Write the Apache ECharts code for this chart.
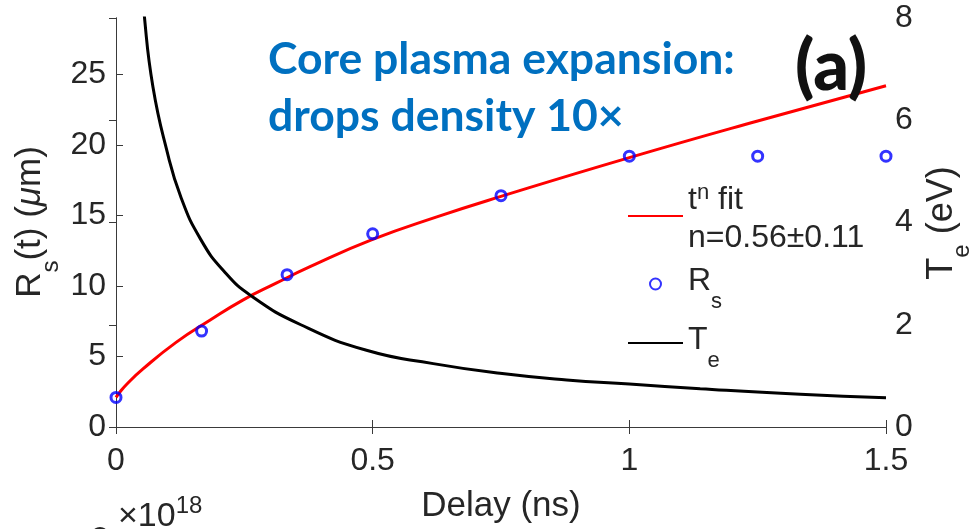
<!DOCTYPE html>
<html>
<head>
<meta charset="utf-8">
<script src="https://cdn.jsdelivr.net/npm/echarts@6/dist/echarts.min.js"></script>
<style>html,body{margin:0;padding:0;background:#fff;}#c{width:979px;height:529px;}</style>
</head>
<body>
<div id="c"></div>
<script>
// Measured R_s points (left axis, µm)
const delayPts = [0, 0.1667, 0.3333, 0.5, 0.75, 1.0, 1.25, 1.5];
const rsPts = [2.1, 6.8, 10.8, 13.7, 16.4, 19.2, 19.2, 19.2];
// t^n fit curve
const fitT = [0, 0.007, 0.02, 0.052, 0.117, 0.182, 0.247, 0.312, 0.377, 0.5, 0.625, 0.75, 1.0, 1.25, 1.5];
const fitR = [2.1, 2.45, 3.0, 4.1, 6.0, 7.55, 9.0, 10.2, 11.35, 13.3, 14.9, 16.35, 19.1, 21.7, 24.2];
// T_e curve (right axis, eV)
const teT = [0.05, 0.0556, 0.072, 0.098, 0.127, 0.165, 0.21, 0.264, 0.36, 0.488, 0.618, 0.748, 0.878, 1.0, 1.138, 1.333, 1.5];
const teV = [8.9, 8.0, 6.65, 5.45, 4.48, 3.67, 3.05, 2.56, 2.0, 1.5, 1.24, 1.05, 0.92, 0.84, 0.75, 0.64, 0.57];
// Tick labels
const xTickLabels = ['0', '0.5', '1', '1.5'];
const leftTicks = [0, 5, 10, 15, 20, 25];
const rightTicks = [0, 2, 4, 6, 8];

const FONT = 'Liberation Sans';
const TXT = '#262626';
const AX = '#3a3a3a';

const fitData = fitT.map((t, i) => [t, fitR[i]]);
const rsData = delayPts.map((t, i) => [t, rsPts[i]]);
const teData = teT.map((t, i) => [t, teV[i]]);

const chart = echarts.init(document.getElementById('c'), null, {renderer: 'canvas'});

const axisCommon = {
  axisLine: {show: true, lineStyle: {color: AX, width: 1}},
  axisTick: {show: true, inside: true, length: 7, lineStyle: {color: AX, width: 1}},
  splitLine: {show: false}
};

const option = {
  backgroundColor: '#ffffff',
  animation: false,
  grid: {left: 116, right: 93, top: 18, bottom: 102, containLabel: false, outerBoundsMode: 'none'},
  xAxis: [
    Object.assign({}, axisCommon, {
      type: 'value', position: 'bottom', min: 0, max: 1.5, interval: 0.5,
      axisLabel: {margin: 18, fontSize: 32, fontFamily: FONT, color: TXT,
        formatter: v => { const i = Math.round(v / 0.5); return Math.abs(v - i * 0.5) < 1e-6 ? xTickLabels[i] : ''; }},
      name: 'Delay (ns)', nameLocation: 'middle', nameGap: 62,
      nameTextStyle: {fontSize: 35, fontFamily: FONT, color: TXT}
    }),
    Object.assign({}, axisCommon, {
      type: 'value', position: 'top', min: 0, max: 1.5, interval: 0.5,
      axisLabel: {show: false}
    })
  ],
  yAxis: [
    Object.assign({}, axisCommon, {
      type: 'value', position: 'left', min: 0, max: 29, interval: 5,
      axisLabel: {margin: 10, fontSize: 32, fontFamily: FONT, color: TXT, showMaxLabel: false,
        formatter: v => leftTicks.indexOf(v) >= 0 ? String(v) : ''}
    }),
    Object.assign({}, axisCommon, {
      type: 'value', position: 'right', min: 0, max: 8, interval: 2,
      axisLabel: {margin: 9, fontSize: 32, fontFamily: FONT, color: TXT,
        formatter: v => rightTicks.indexOf(v) >= 0 ? String(v) : ''}
    })
  ],
  legend: {
    orient: 'vertical', left: 627, top: 178, padding: 0, itemGap: 11,
    itemWidth: 55, itemHeight: 11, selectedMode: false,
    data: [
      {name: 'fit', itemStyle: {opacity: 0}},
      {name: 'Rs'},
      {name: 'Te', itemStyle: {opacity: 0}}
    ],
    formatter: function (name) {
      if (name === 'fit') return '{a|t}{sa|n}{a| fit}\n{a|n=0.56±0.11}';
      if (name === 'Rs') return '{b|R}{sb|s}';
      return '{b|T}{sb|e}';
    },
    textStyle: {
      fontSize: 32, fontFamily: FONT, color: TXT,
      rich: {
        a: {fontSize: 32, fontFamily: FONT, color: TXT, lineHeight: 38, verticalAlign: 'bottom'},
        sa: {fontSize: 22, fontFamily: FONT, color: TXT, lineHeight: 22, verticalAlign: 'top', padding: [4, 0, 0, 0]},
        b: {fontSize: 32, fontFamily: FONT, color: TXT, lineHeight: 38, verticalAlign: 'top'},
        sb: {fontSize: 22, fontFamily: FONT, color: TXT, lineHeight: 22, verticalAlign: 'top', padding: [26, 0, 0, 0]}
      }
    }
  },
  graphic: [
    {type: 'text', left: 268, top: 31, z: 50,
      style: {text: 'Core plasma expansion:\ndrops density 10×', fill: '#0070C0',
        font: 'bold 44.5px Lato', lineHeight: 57}},
    {type: 'text', left: 795, top: 32, z: 50,
      style: {text: '(a)', fill: '#111111', font: '900 70px Lato'}},
    {type: 'text', x: 33, y: 222, rotation: Math.PI / 2, z: 50,
      style: {text: '{m|R}{s|s}{m|(t) (}{i|μ}{m|m)}', align: 'center', verticalAlign: 'middle',
        rich: {
          m: {fontSize: 35, fontFamily: FONT, fill: TXT, lineHeight: 40, verticalAlign: 'top'},
          i: {fontSize: 35, fontFamily: FONT, fontStyle: 'italic', fill: TXT, lineHeight: 40, verticalAlign: 'top'},
          s: {fontSize: 24, fontFamily: FONT, fill: TXT, lineHeight: 24, verticalAlign: 'top', padding: [26, 0, 0, 0]}
        }}},
    {type: 'text', x: 944, y: 223, rotation: Math.PI / 2, z: 50,
      style: {text: '{m|T}{s|e}{m| (eV)}', align: 'center', verticalAlign: 'middle',
        rich: {
          m: {fontSize: 36, fontFamily: FONT, fill: TXT, lineHeight: 40, verticalAlign: 'top'},
          s: {fontSize: 24, fontFamily: FONT, fill: TXT, lineHeight: 24, verticalAlign: 'top', padding: [26, 0, 0, 0]}
        }}},
    {type: 'text', left: 118, top: 494, z: 50,
      style: {text: '{m|×10}{s|18}', rich: {
        m: {fontSize: 34, fontFamily: FONT, fill: TXT, lineHeight: 40, verticalAlign: 'bottom'},
        s: {fontSize: 24, fontFamily: FONT, fill: TXT, lineHeight: 24, verticalAlign: 'top'}
      }}},
    {type: 'text', left: 91, top: 524, z: 50,
      style: {text: '2', font: '32px "Liberation Sans"', fill: TXT}}
  ],
  series: [
    {name: 'fit', type: 'line', xAxisIndex: 0, yAxisIndex: 0, data: fitData,
      smooth: 0.5, symbol: 'none', clip: true,
      lineStyle: {color: '#ff0000', width: 3}, itemStyle: {color: '#ff0000'}, z: 2},
    {name: 'Rs', type: 'scatter', xAxisIndex: 0, yAxisIndex: 0, data: rsData,
      symbol: 'circle', symbolSize: 10, clip: false,
      itemStyle: {color: 'rgba(255,255,255,0)', borderColor: '#0000ff', borderWidth: 3}, z: 4},
    {name: 'Te', type: 'line', xAxisIndex: 0, yAxisIndex: 1, data: teData,
      smooth: 0.5, symbol: 'none', clip: true,
      lineStyle: {color: '#000000', width: 3}, itemStyle: {color: '#000000'}, z: 3}
  ]
};
chart.setOption(option);
</script>
</body>
</html>
